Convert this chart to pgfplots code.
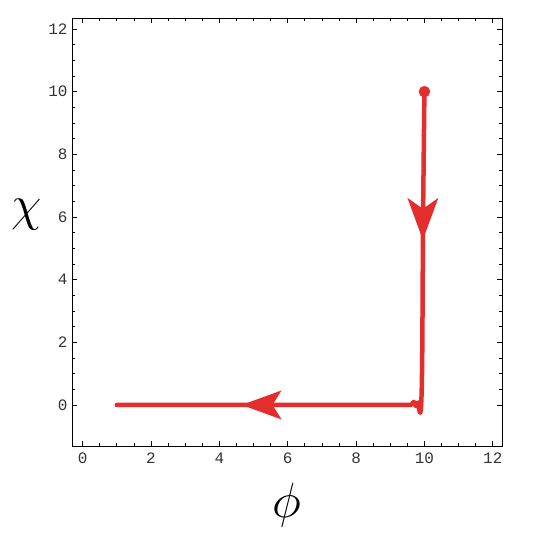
\documentclass[border=0pt]{standalone}
\usepackage{fontspec}
\setmonofont{Liberation Mono}
\usepackage{pgfplots}
\pgfplotsset{compat=1.18}
\usetikzlibrary{arrows.meta}
\definecolor{traj}{RGB}{228,46,46}
\begin{document}
\begin{tikzpicture}
\begin{axis}[
  scale only axis, width=430bp, height=428bp,
  xmin=-0.31, xmax=12.27, ymin=-1.31, ymax=12.35,
  xtick={0,2,...,12}, ytick={0,2,...,12},
  minor tick num=3,
  major tick length=5bp, minor tick length=3bp,
  tick style={black, line width=0.6bp},
  axis line style={black, line width=0.8bp},
  /pgf/number format/assume math mode=true,
  ticklabel style={font=\fontsize{16}{16}\selectfont\ttfamily, text=black!80},
  xticklabel style={yshift=-3bp},
  yticklabel style={xshift=-1bp},
  xlabel={$\phi$}, ylabel={$\chi$},
  xlabel style={at={(axis description cs:0.5,0)}, anchor=center, yshift=-59bp, font=\fontsize{24}{24}\selectfont, scale=2.0},
  ylabel style={rotate=-90, at={(axis description cs:0,0.5)}, anchor=center, xshift=-45bp, yshift=17bp, font=\fontsize{24}{24}\selectfont, scale=2.0},
  clip=false,
]
\addplot[traj, line width=4.5bp, line cap=round, line join=round] coordinates {
 (10,10) (9.98,8) (9.96,6) (9.95,4) (9.94,2) (9.93,1) (9.92,0.4) (9.9,-0.1)
 (9.88,-0.25) (9.86,-0.22) (9.84,-0.05) (9.82,0.08) (9.79,0.05) (9.76,-0.04)
 (9.73,0.0) (9.69,0.1) (9.65,0.05) (9.6,0.0) (9.5,0) (1,0)
};
\addplot[traj, line width=4.5bp, -{Stealth[length=42bp,width=31bp,inset=11bp,line width=0pt]}] coordinates {(9.955,6.8) (9.955,5.27)};
\addplot[traj, line width=4.5bp, -{Stealth[length=40bp,width=29bp,inset=9bp,line width=0pt]}] coordinates {(6.4,0) (4.65,0)};
\addplot[traj, only marks, mark=*, mark size=5.5bp] coordinates {(10,10)};
\end{axis}
\path (current axis.south west) ++(-72bp,-96bp) rectangle ++(550bp,542bp);
\end{tikzpicture}
\end{document}
